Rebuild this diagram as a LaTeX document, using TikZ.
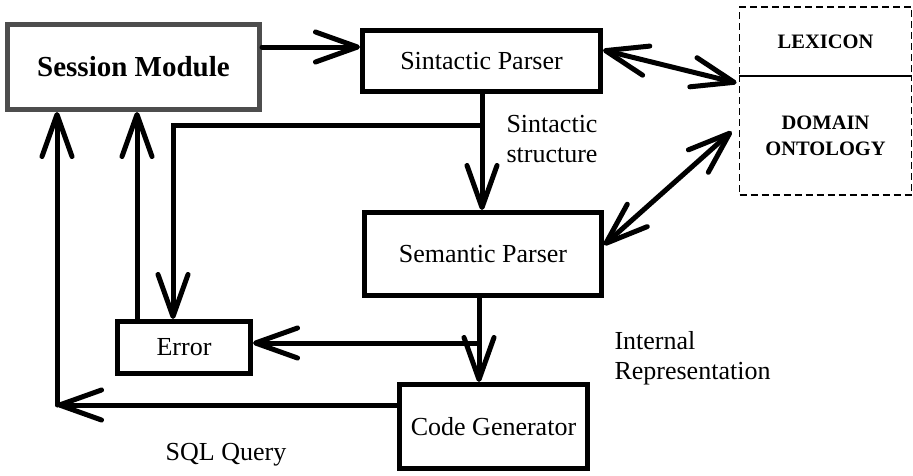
\documentclass[tikz,border=0pt]{standalone}
\usepackage{fontspec}
\setmainfont{Liberation Serif}
\usetikzlibrary{arrows.meta}
\definecolor{frame}{HTML}{4D4D4D}
\begin{document}
\begin{tikzpicture}[x=1pt,y=-1pt,
  txt/.style={font=\fontsize{26}{30}\selectfont},
  blk/.style={draw=black,line width=5pt,inner sep=0pt,txt},
  dbox/.style={draw=black,dash pattern=on 7pt off 4pt,line width=1.8pt,inner sep=0pt,
    font=\bfseries\fontsize{20.5}{26}\selectfont,align=center},
  tip/.tip={Straight Barb[length=42pt,width=30pt,round]},
  conn/.style={line width=5pt,line cap=round},
  arr/.style={conn,-tip},
  darr/.style={conn,tip-tip},
]
\useasboundingbox (0,0) rectangle (913,475);

% processing modules
\node[draw=frame,line width=5pt,inner sep=0pt,minimum width=252pt,minimum height=85pt,
  font=\bfseries\fontsize{29}{34}\selectfont] (sm) at (133.5,67) {Session Module};
\node[blk,minimum width=238pt,minimum height=61pt] (sp) at (481.5,61) {Sintactic Parser};
\node[blk,minimum width=237pt,minimum height=83pt] (smp) at (483,254) {Semantic Parser};
\node[blk,minimum width=133pt,minimum height=52pt] (err) at (184,347.5) {Error};
\node[blk,minimum width=188pt,minimum height=84pt] (cg) at (493.5,426.5) {Code Generator};

% knowledge sources
\node[dbox,minimum width=172pt,minimum height=69pt] (lex) at (825.5,41.5) {LEXICON};
\node[dbox,minimum width=172pt,minimum height=119pt] (dom) at (825.5,135.5) {DOMAIN\\ONTOLOGY};

% labels
\node[txt,anchor=west,align=left] (lss) at (503,139) {Sintactic\\structure};
\node[txt,anchor=west,align=left] (lir) at (611,358) {Internal\\Representation};
\node[txt] (lsql) at (226,455) {SQL Query};

% junctions
\coordinate (j1) at (482,125);
\coordinate (j2) at (479,343);
\coordinate (q) at (57,405);

% main flow
\draw[arr] ([yshift=20pt]sm.east) -- ([yshift=14pt]sp.west);
\draw[arr] (sp.south -| j1) -- (smp.north -| j1);
\draw[arr] (smp.south -| j2) -- (cg.north -| j2);
\draw[arr] (cg.west |- q) -- (q);
\draw[arr] (q) -- (q |- sm.south);

% error paths
\draw[arr] (j1) -| ([xshift=-11pt]err.north);
\draw[arr] (j2) -- (err.east |- j2);
\draw[arr] ([xshift=-47pt]err.north) -- ([xshift=-47pt]err.north |- sm.south);

% lookups
\draw[darr] ([yshift=11pt]sp.east) -- ([xshift=-2pt,yshift=-6pt]lex.south west);
\draw[darr] ([yshift=9pt]smp.east) -- ([xshift=-7pt,yshift=4pt]dom.west);
\end{tikzpicture}
\end{document}
